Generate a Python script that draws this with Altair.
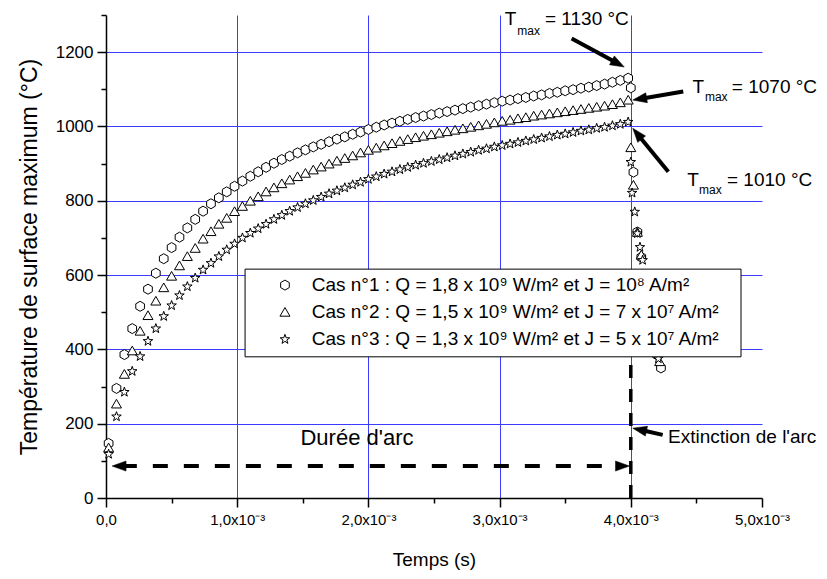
import json
import math
import altair as alt
import pandas as pd

# ---------------- data (times in ms, temperatures in °C) ----------------
t_rise_ms = [0.02, 0.08, 0.14, 0.20, 0.26, 0.32, 0.38, 0.44, 0.50, 0.56,
             0.62, 0.68, 0.74, 0.80, 0.86, 0.92, 0.98, 1.04, 1.10, 1.16,
             1.22, 1.28, 1.34, 1.40, 1.46, 1.52, 1.58, 1.64, 1.70, 1.76,
             1.82, 1.88, 1.94, 2.00, 2.06, 2.12, 2.18, 2.24, 2.30, 2.36,
             2.42, 2.48, 2.54, 2.60, 2.66, 2.72, 2.78, 2.84, 2.90, 2.96,
             3.02, 3.08, 3.14, 3.20, 3.26, 3.32, 3.38, 3.44, 3.50, 3.56,
             3.62, 3.68, 3.74, 3.80, 3.86, 3.92, 3.98]

cas1_rise = [147, 295, 386, 456, 516, 562, 605, 644, 674, 702,
             727, 750, 772, 792, 808, 824, 839, 853, 866, 878,
             890, 901, 911, 920, 929, 937, 945, 952, 959, 966,
             972, 979, 985, 992, 998, 1004, 1009, 1014, 1019, 1024,
             1028, 1032, 1036, 1040, 1044, 1048, 1052, 1056, 1060, 1064,
             1068, 1071, 1075, 1078, 1082, 1085, 1089, 1092, 1096, 1099,
             1103, 1106, 1110, 1114, 1119, 1124, 1130]

cas2_rise = [136, 254, 334, 397, 450, 492, 531, 567, 598, 626,
             651, 673, 698, 718, 738, 754, 772, 786, 800, 812,
             825, 836, 847, 857, 866, 875, 884, 892, 900, 908,
             915, 922, 930, 937, 943, 949, 955, 961, 966, 971,
             975, 979, 983, 987, 991, 995, 999, 1003, 1007, 1011,
             1015, 1018, 1022, 1025, 1029, 1032, 1035, 1038, 1041, 1044,
             1047, 1050, 1053, 1056, 1060, 1065, 1072]

cas3_rise = [118, 219, 285, 341, 381, 422, 456, 489, 518, 545,
             569, 592, 614, 632, 650, 668, 684, 700, 713, 725,
             737, 750, 761, 772, 782, 792, 801, 810, 819, 827,
             835, 843, 850, 858, 865, 872, 878, 884, 890, 896,
             901, 906, 911, 916, 921, 926, 931, 936, 940, 945,
             949, 953, 957, 961, 965, 969, 973, 977, 980, 984,
             988, 991, 995, 998, 1002, 1006, 1012]

t_drop1_ms = [4.00, 4.02, 4.05, 4.08, 4.11, 4.14, 4.17, 4.20, 4.23]
cas1_drop = [1104, 877, 716, 648, 590, 520, 450, 385, 350]
t_drop2_ms = [4.00, 4.02, 4.05, 4.08, 4.11, 4.14, 4.17, 4.20, 4.22]
cas2_drop = [944, 843, 716, 655, 595, 525, 455, 395, 368]
t_drop3_ms = [4.00, 4.01, 4.03, 4.05, 4.07, 4.09, 4.12, 4.15, 4.18, 4.21]
cas3_drop = [904, 821, 770, 712, 675, 640, 575, 500, 430, 375]

series_labels = [
    "Cas n°1 : Q = 1,8 x 10⁹ W/m² et J = 10⁸ A/m²",
    "Cas n°2 : Q = 1,5 x 10⁹ W/m² et J = 7 x 10⁷ A/m²",
    "Cas n°3 : Q = 1,3 x 10⁹ W/m² et J = 5 x 10⁷ A/m²",
]

x_tick_values_ms = [0, 0.5, 1.0, 1.5, 2.0, 2.5, 3.0, 3.5, 4.0, 4.5, 5.0]
x_major_labels = ["0,0", "1,0x10⁻³", "2,0x10⁻³", "3,0x10⁻³", "4,0x10⁻³", "5,0x10⁻³"]
y_tick_values = [0, 100, 200, 300, 400, 500, 600, 700, 800, 900, 1000, 1100, 1200, 1300]

# legend box placement (in data units: ms, °C)
legend_box_t = [1.06, 4.84]
legend_box_T = [380, 616]
legend_row_T = [573, 501, 427]
legend_sym_t = 1.364
legend_text_t = 1.568

# annotations (ms, °C)
arrow_tail_t = [3.549, 4.40, 4.286, 4.243]
arrow_tail_T = [1237, 1094, 878, 170]
arrow_tip_t = [3.950, 4.015, 4.015, 4.015]
arrow_tip_T = [1160, 1071, 995, 188]
span_t = [0.046, 3.99]
span_T = 86
extinction_t = 4.0
extinction_T = [0, 378]

tmax_T_t = [3.040, 4.470, 4.430]
tmax_T_T = [1288, 1107, 856]
tmax_sub_t = [3.135, 4.565, 4.520]
tmax_sub_T = [1257, 1080, 829]
tmax_val_t = [3.346, 4.770, 4.733]
tmax_val_T = [1288, 1105, 856]
tmax_val_text = ["= 1130 °C", "= 1070 °C", "= 1010 °C"]

duree_text, duree_t, duree_T = "Durée d'arc", 1.913, 161
ext_text, ext_t, ext_T = "Extinction de l'arc", 4.284, 164

# ---------------- layout ----------------
W, H = 656, 483
X_MAX_MS, Y_MAX = 5.0, 1300
px_ms = W / X_MAX_MS
px_deg = H / Y_MAX
FONT = "Liberation Sans"

rows = []
for lab, ts, vs in [(series_labels[0], t_rise_ms + t_drop1_ms, cas1_rise + cas1_drop),
                    (series_labels[1], t_rise_ms + t_drop2_ms, cas2_rise + cas2_drop),
                    (series_labels[2], t_rise_ms + t_drop3_ms, cas3_rise + cas3_drop)]:
    for t, v in zip(ts, vs):
        rows.append({"t": t * 1e-3, "T": v, "cas": lab})
df = pd.DataFrame(rows)

hexagon = "M0,-1L0.866,-0.5L0.866,0.5L0,1L-0.866,0.5L-0.866,-0.5Z"
star = ("M0,-1L0.235,-0.324L0.951,-0.309L0.380,0.124L0.588,0.809L0,0.4"
        "L-0.588,0.809L-0.380,0.124L-0.951,-0.309L-0.235,-0.324Z")
head_shape = "M0,0L0.72,2L-0.72,2Z"
HEAD_LEN = 14

xs = alt.Scale(domain=[0, X_MAX_MS * 1e-3], nice=False, zero=False)
ys = alt.Scale(domain=[0, Y_MAX], nice=False, zero=False)
shape_scale = alt.Scale(domain=series_labels, range=[hexagon, "triangle-up", star])

x_label_list = []
for i, lab in enumerate(x_major_labels):
    x_label_list.append(lab)
    if i < len(x_major_labels) - 1:
        x_label_list.append("")
x_major = "round(datum.value*2000) % 2 === 0"

x_axis = alt.Axis(
    values=[v * 1e-3 for v in x_tick_values_ms],
    labelExpr=json.dumps(x_label_list, ensure_ascii=False) + "[round(datum.value*2000)]",
    labelFlush=False, labelOverlap=False,
    grid=True, gridColor="#3c3cff", gridWidth=1,
    gridOpacity={"condition": {"test": x_major + " && datum.value > 0 && datum.value < 0.0049", "value": 1}, "value": 0},
    tickSize={"condition": {"test": x_major, "value": 9}, "value": 5},
    tickColor="black", tickWidth=1.5, domainColor="black", domainWidth=1.5,
    labelFont=FONT, labelFontSize=15, labelColor="black", labelPadding=5,
    title="Temps (s)", titleFont=FONT, titleFontSize=19, titleFontWeight="normal",
    titleColor="black", titlePadding=23,
)
y_major = "datum.value % 200 === 0"
y_axis = alt.Axis(
    values=y_tick_values,
    labelExpr=y_major + " ? '' + datum.value : ''",
    labelOverlap=False,
    grid=True, gridColor="#3c3cff", gridWidth=1,
    gridOpacity={"condition": {"test": y_major + " && datum.value > 0", "value": 1}, "value": 0},
    tickSize={"condition": {"test": y_major, "value": 9}, "value": 5},
    tickColor="black", tickWidth=1.5, domainColor="black", domainWidth=1.5,
    labelFont=FONT, labelFontSize=17, labelColor="black", labelPadding=4,
    title="Température de surface maximum (°C)", titleFont=FONT, titleFontSize=23,
    titleFontWeight="normal", titleColor="black", titlePadding=14,
)

X = alt.X("t:Q", scale=xs, axis=x_axis)
Y = alt.Y("T:Q", scale=ys, axis=y_axis)

points = alt.Chart(df).mark_point(
    filled=True, fill="white", stroke="black", strokeWidth=1, size=100, opacity=1
).encode(x=X, y=Y, shape=alt.Shape("cas:N", scale=shape_scale, legend=None))

# legend drawn from the series labels
box_df = pd.DataFrame([{"t": legend_box_t[0] * 1e-3, "T": legend_box_T[0],
                        "t2": legend_box_t[1] * 1e-3, "T2": legend_box_T[1]}])
legend_box = alt.Chart(box_df).mark_rect(fill="white", stroke="black", strokeWidth=1).encode(
    x=X, y=Y, x2="t2:Q", y2="T2:Q")
leg_df = pd.DataFrame([{"t": legend_sym_t * 1e-3, "T": r, "tt": legend_text_t * 1e-3, "cas": lab}
                       for r, lab in zip(legend_row_T, series_labels)])
legend_sym = alt.Chart(leg_df).mark_point(
    filled=True, fill="white", stroke="black", strokeWidth=1, size=100, opacity=1
).encode(x=X, y=Y, shape=alt.Shape("cas:N", scale=shape_scale, legend=None))
legend_txt = alt.Chart(leg_df).mark_text(
    align="left", baseline="middle", font=FONT, fontSize=19, color="black"
).encode(x=alt.X("tt:Q", scale=xs, axis=x_axis), y=Y, text="cas:N")


def arrow_geom(tail, tip):
    dx = (tip[0] - tail[0]) * px_ms
    dy = -(tip[1] - tail[1]) * px_deg
    L = math.hypot(dx, dy)
    ang = math.degrees(math.atan2(dx, -dy)) % 360
    shrink = HEAD_LEN * 0.7
    end = (tip[0] - dx / L * shrink / px_ms, tip[1] + dy / L * shrink / px_deg)
    return ang, end


seg_rows, head_rows = [], []
for a, b, c, d in zip(arrow_tail_t, arrow_tail_T, arrow_tip_t, arrow_tip_T):
    ang, end = arrow_geom((a, b), (c, d))
    seg_rows.append({"t": a * 1e-3, "T": b, "t2": end[0] * 1e-3, "T2": end[1]})
    head_rows.append({"t": c * 1e-3, "T": d, "ang": ang})

angL, endL = arrow_geom((span_t[1], span_T), (span_t[0], span_T))
angR, endR = arrow_geom((span_t[0], span_T), (span_t[1], span_T))
dash_rows = [{"t": endL[0] * 1e-3, "T": span_T, "t2": endR[0] * 1e-3, "T2": span_T}]
head_rows.append({"t": span_t[0] * 1e-3, "T": span_T, "ang": angL})
head_rows.append({"t": span_t[1] * 1e-3, "T": span_T, "ang": angR})
vert_rows = [{"t": extinction_t * 1e-3, "T": extinction_T[0], "t2": extinction_t * 1e-3, "T2": extinction_T[1]}]

solid = alt.Chart(pd.DataFrame(seg_rows)).mark_rule(color="black", strokeWidth=4).encode(
    x=X, y=Y, x2="t2:Q", y2="T2:Q")
dashed = alt.Chart(pd.DataFrame(dash_rows)).mark_rule(color="black", strokeWidth=4, strokeDash=[15, 16]).encode(
    x=X, y=Y, x2="t2:Q", y2="T2:Q")
vert = alt.Chart(pd.DataFrame(vert_rows)).mark_rule(color="black", strokeWidth=3.5, strokeDash=[13, 11]).encode(
    x=X, y=Y, x2="t2:Q", y2="T2:Q")
heads = alt.Chart(pd.DataFrame(head_rows)).mark_point(
    shape=head_shape, filled=True, fill="black", stroke="black", strokeWidth=0.5,
    size=HEAD_LEN ** 2, opacity=1).encode(x=X, y=Y, angle=alt.Angle("ang:Q", scale=None))

big_rows = [{"t": tt * 1e-3, "T": vv, "label": "T"} for tt, vv in zip(tmax_T_t, tmax_T_T)]
big_rows += [{"t": tt * 1e-3, "T": vv, "label": s} for tt, vv, s in zip(tmax_val_t, tmax_val_T, tmax_val_text)]
big_rows += [{"t": ext_t * 1e-3, "T": ext_T, "label": ext_text}]
sub_rows = [{"t": tt * 1e-3, "T": vv, "label": "max"} for tt, vv in zip(tmax_sub_t, tmax_sub_T)]
duree_rows = [{"t": duree_t * 1e-3, "T": duree_T, "label": duree_text}]

big_text = alt.Chart(pd.DataFrame(big_rows)).mark_text(
    align="left", baseline="middle", font=FONT, fontSize=19, color="black").encode(x=X, y=Y, text="label:N")
sub_text = alt.Chart(pd.DataFrame(sub_rows)).mark_text(
    align="left", baseline="middle", font=FONT, fontSize=12, color="black").encode(x=X, y=Y, text="label:N")
duree = alt.Chart(pd.DataFrame(duree_rows)).mark_text(
    align="center", baseline="middle", font=FONT, fontSize=22, color="black").encode(x=X, y=Y, text="label:N")

chart = alt.layer(points, legend_box, legend_sym, legend_txt, solid, dashed, vert, heads,
                  big_text, sub_text, duree).properties(
    width=W, height=H,
    autosize=alt.AutoSizeParams(type="none"),
    padding={"left": 98, "top": 7, "right": 57, "bottom": 73},
    background="white",
).configure_view(stroke="transparent")

chart.save("out.html", embed_options={"renderer": "svg", "actions": False})
